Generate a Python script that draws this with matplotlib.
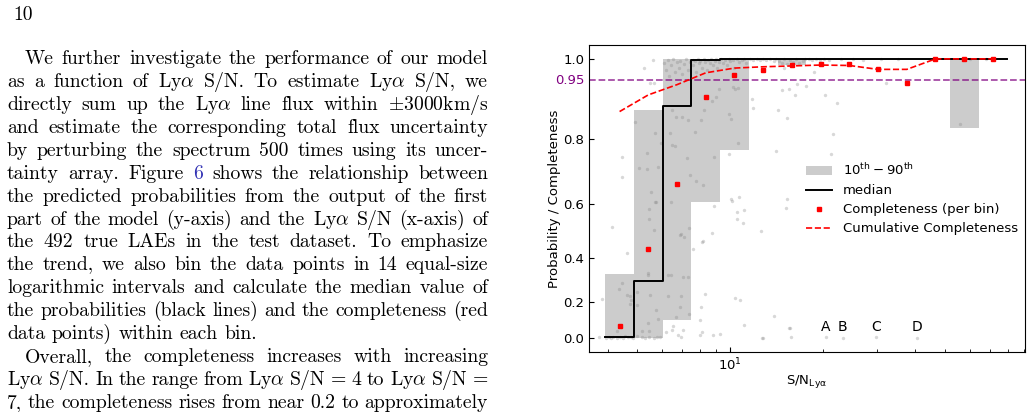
import numpy as np
import matplotlib
matplotlib.use('Agg')
import matplotlib.pyplot as plt
from matplotlib.patches import Patch
from matplotlib.lines import Line2D
from matplotlib.ticker import NullFormatter, FormatStrFormatter

# 14 equal-size logarithmic S/N bins
snr_edges = [3.93, 4.87, 6.04, 7.49, 9.28, 11.50, 14.26, 17.68, 21.91, 27.16,
             33.67, 41.74, 51.74, 64.13, 79.50]
p10 = [0.0, 0.0, 0.104, 0.609, 0.768, 0.997, 0.985, 1.0, 1.0, 1.0, 1.0, 1.0, 0.831, 1.0]
p90 = [0.333, 0.878, 1.0, 1.0, 1.0, 1.0, 1.0, 1.0, 1.0, 1.0, 1.0, 1.0, 1.0, 1.0]
p50 = [0.006, 0.301, 0.886, 0.997, 1.0, 1.0, 1.0, 1.0, 1.0, 1.0, 1.0, 1.0, 1.0, 1.0]
comp_bin = [0.074, 0.437, 0.666, 0.910, 0.964, 0.974, 0.985, 0.989, 0.988, 0.976,
            0.945, 1.0, 1.0, 1.0]
comp_cum = [0.873, 0.915, 0.940, 0.968, 0.979, 0.982, 0.984, 0.986, 0.985, 0.976,
            0.976, 1.0, 1.0, 1.0]

# individual LAEs
snr_low = [3.74, 3.95, 4.03, 4.10, 4.18, 4.28, 4.38, 4.49, 4.57, 4.66, 4.77, 4.85, 5.00,
           5.17, 5.30, 5.45, 5.64, 5.78, 5.93, 6.18, 6.49, 6.54, 6.79, 6.95, 7.05, 8.00,
           8.13, 8.77, 9.28, 12.7, 12.8, 15.6, 15.8]
prob_low = [0.004, 0.002, 0.006, 0.003, 0.008, 0.003, 0.005, 0.002, 0.010, 0.004, 0.006,
            0.003, 0.012, 0.004, 0.002, 0.006, 0.003, 0.005, 0.008, 0.038, 0.050, 0.070,
            0.016, 0.004, 0.050, 0.020, 0.038, 0.016, 0.025, 0.003, 0.000, 0.062, 0.006]

snr_mid = [3.84, 4.13, 4.28, 4.37, 4.43, 4.45, 4.47, 4.47, 4.64, 4.64, 4.73, 4.76, 4.73,
           4.92, 4.98, 5.00, 5.04, 5.17, 5.27, 5.37, 5.37, 5.40, 5.42, 5.43, 5.44, 5.44,
           5.45, 5.48, 5.50, 5.53, 5.60, 5.64, 5.65, 5.71, 5.71, 5.73, 5.75, 5.85, 5.85,
           5.97,
           6.49, 6.69, 6.99, 7.32, 6.38, 6.49, 6.60, 7.23, 6.43, 6.88, 7.10, 6.95, 7.38,
           6.28, 6.43, 7.05, 7.32, 6.30, 6.95, 6.88, 7.38, 6.69, 7.40,
           8.88, 8.73, 8.19, 8.10, 7.56, 8.29, 8.03, 7.99, 7.69, 7.72, 8.19, 8.05, 8.88,
           8.25, 8.73, 9.20, 9.00,
           9.93, 10.05, 10.6, 10.2, 10.4, 10.6, 9.95, 10.1, 10.12, 10.7, 11.1, 10.5, 10.5,
           11.0, 12.6, 11.8, 11.9, 14.35, 15.3, 14.7, 16.2, 15.5, 16.45, 17.6, 18.75,
           20.4, 22.3, 21.6, 21.3, 14.1, 15.3, 15.15, 10.35, 10.8, 11.1, 13.9, 15.55,
           32.2, 14.95, 56.0]
prob_mid = [0.215, 0.52, 0.04, 0.263, 0.065, 0.75, 0.69, 0.29, 0.42, 0.235, 0.23, 0.209,
            0.19, 0.845, 0.25, 0.185, 0.715, 0.045, 0.98, 0.76, 0.712, 0.09, 0.335, 0.33,
            0.585, 0.548, 0.045, 0.235, 0.944, 0.64, 0.998, 0.51, 0.944, 0.815, 0.607,
            0.607, 0.158, 0.72, 0.11, 0.79,
            0.878, 0.86, 0.858, 0.852, 0.816, 0.783, 0.78, 0.747, 0.609, 0.49, 0.485,
            0.495, 0.518, 0.33, 0.328, 0.32, 0.32, 0.23, 0.228, 0.177, 0.14, 0.12, 0.695,
            0.595, 0.50, 0.47, 0.465, 0.437, 0.238, 0.175, 0.104, 0.82, 0.677, 0.664,
            0.852, 0.75, 0.878, 0.90, 0.93, 0.91,
            0.868, 0.855, 0.79, 0.935, 0.93, 0.933, 0.757, 0.617, 0.613, 0.625, 0.58,
            0.573, 0.55, 0.537, 0.506, 0.905, 0.883, 0.877, 0.857, 0.928, 0.915, 0.93,
            0.941, 0.937, 0.97, 0.914, 0.894, 0.814, 0.757, 0.766, 0.617, 0.589, 0.218,
            0.212, 0.075, 0.125, 0.06, 0.944, 0.98, 0.84]

snr_top = [6.1, 6.2, 6.3, 6.35, 6.45, 6.5, 6.6, 6.7, 6.8, 6.9, 7.0, 7.1, 7.2, 7.3, 7.4,
           7.55, 7.6, 7.7, 7.75, 7.85, 7.9, 8.0, 8.1, 8.2, 8.3, 8.4, 8.5, 8.6, 8.7, 8.8,
           8.9, 9.0, 9.1, 9.2,
           9.35, 9.5, 9.6, 9.75, 9.9, 10.0, 10.2, 10.3, 10.5, 10.7, 10.9, 11.1, 11.3,
           11.6, 11.9, 12.2, 12.5, 12.8, 13.1, 13.5, 13.9, 14.1,
           14.4, 14.7, 15.0, 15.3, 15.6, 16.0, 16.4, 16.8, 17.2, 17.5,
           18.0, 18.5, 19.0, 19.6, 20.2, 21.0, 23.0, 25.0, 27.0, 31.0, 35.0, 46.0, 60.0,
           68.0]
prob_top = [0.99, 0.975, 0.997, 0.96, 0.985, 0.999, 0.97, 0.992, 0.98, 0.996, 0.965,
            0.988, 0.999, 0.975, 0.993,
            0.998, 0.985, 0.995, 0.97, 0.999, 0.99, 0.996, 0.98, 0.999, 0.993, 0.975,
            0.998, 0.99, 0.999, 0.985, 0.996, 0.999, 0.98, 0.994,
            0.999, 0.99, 0.997, 0.985, 0.999, 0.995, 0.998, 0.98, 0.999, 0.993, 0.997,
            0.999, 0.99,
            0.999, 0.998, 0.999, 0.997, 0.999, 0.998, 0.999, 0.996, 0.999,
            0.995, 0.99, 0.999, 0.988, 0.997, 0.993, 0.999, 0.99, 0.996, 0.999,
            0.999, 0.998, 0.999, 0.997, 0.999, 0.998, 0.999, 0.999, 0.998, 0.999, 0.999,
            0.999, 0.999, 0.999]

# labelled sources
lab_names = ['A', 'B', 'C', 'D']
lab_snr = [20.45, 23.2, 29.8, 40.4]
lab_prob = [0.006, 0.0, 0.008, 0.003]

page_lines = [
    "We further investigate the performance of our model",
    "as a function of Ly$\\alpha$ S/N. To estimate Ly$\\alpha$ S/N, we",
    "directly sum up the Ly$\\alpha$ line flux within $\\pm$3000km/s",
    "and estimate the corresponding total flux uncertainty",
    "by perturbing the spectrum 500 times using its uncer-",
    "tainty array.  Figure @6 shows the relationship between",
    "the predicted probabilities from the output of the first",
    "part of the model (y-axis) and the Ly$\\alpha$ S/N (x-axis) of",
    "the 492 true LAEs in the test dataset.  To emphasize",
    "the trend, we also bin the data points in 14 equal-size",
    "logarithmic intervals and calculate the median value of",
    "the probabilities (black lines) and the completeness (red",
    "data points) within each bin.",
    "Overall, the completeness increases with increasing",
    "Ly$\\alpha$ S/N. In the range from Ly$\\alpha$ S/N = 4 to Ly$\\alpha$ S/N =",
    "7, the completeness rises from near 0.2 to approximately",
]
indented = [0, 13]
ragged = [12]

W, H = 1032, 412
fig = plt.figure(figsize=(W / 100, H / 100), dpi=100)
renderer = fig.canvas.get_renderer()

text_size = 14.2
serif = ['cmr10', 'DejaVu Serif']
link_color = '#3232b4'


def put_line(words, x0, x1, y, full=True):
    objs = []
    for w in words:
        col = link_color if w.startswith('@') else 'black'
        t = fig.text(x0 / W, 1 - y / H, w.lstrip('@'), fontsize=text_size, family=serif,
                     math_fontfamily='cm', color=col, va='baseline', ha='left')
        objs.append(t)
    widths = [t.get_window_extent(renderer).width for t in objs]
    if full and len(objs) > 1:
        gap = (x1 - x0 - sum(widths)) / (len(objs) - 1)
    else:
        gap = 0.333 * text_size * 100 / 72
    x = x0
    for t, wd in zip(objs, widths):
        t.set_x(x / W)
        x += wd + gap


fig.text(13 / W, 1 - 20 / H, '10', fontsize=text_size, family=serif, va='baseline')
for i, line in enumerate(page_lines):
    x0 = 25 if i in indented else 7
    put_line(line.split(), x0, 488, 64 + 22.93 * i, full=i not in ragged)

# chart
ax = fig.add_axes([589 / W, 1 - 352 / H, (1025 - 589) / W, (352 - 45) / H])
ax.set_xscale('log')
ax.set_yscale('function', functions=(np.exp, np.log))

edges = np.array(snr_edges)
centers = np.sqrt(edges[:-1] * edges[1:])

ax.fill_between(edges, p10 + [p10[-1]], p90 + [p90[-1]], step='post',
                color='0.8', lw=0, zorder=1)
ax.scatter(snr_low + snr_mid + snr_top + lab_snr, prob_low + prob_mid + prob_top + lab_prob,
           s=6, c='gray', alpha=0.3, lw=0, zorder=2)
ax.step(edges, p50 + [p50[-1]], where='post', color='black', lw=1.4, zorder=3)
ax.plot(centers, comp_cum, color='red', ls='--', lw=1.2, zorder=4)
ax.plot(centers, comp_bin, 's', color='red', ms=3.2, lw=0, zorder=5)
ax.axhline(0.95, color='purple', ls='--', lw=1.3, alpha=0.7, zorder=2)
ax.annotate('0.95', xy=(0, 0.95), xycoords=('axes fraction', 'data'), xytext=(-3.5, 0),
            textcoords='offset points', ha='right', va='center', color='purple',
            fontsize=9.5)

for name, x in zip(lab_names, lab_snr):
    ax.text(x, 0.042, name, ha='center', va='baseline', fontsize=10)

ax.set_xlim(3.48, 90.8)
ax.set_ylim(-0.09, 1.031)
ax.set_yticks([0.0, 0.2, 0.4, 0.6, 0.8, 1.0])
ax.yaxis.set_major_formatter(FormatStrFormatter('%.1f'))
ax.xaxis.set_minor_formatter(NullFormatter())
ax.tick_params(which='both', direction='in', labelsize=9.5)
ax.tick_params(which='major', length=3.5)
ax.tick_params(which='minor', length=2)
ax.set_xlabel(r'S/N$_{\rm Ly\alpha}$', fontsize=9.5, labelpad=0)
ax.set_ylabel('Probability / Completeness', fontsize=9.5, labelpad=1.5)

handles = [Patch(color='0.8', lw=0),
           Line2D([], [], color='black', lw=1.4),
           Line2D([], [], marker='s', color='red', ms=3.2, lw=0),
           Line2D([], [], color='red', ls='--', lw=1.2)]
labels = [r'10$^{\rm th}-90^{\rm th}$', 'median', 'Completeness (per bin)',
          'Cumulative Completeness']
ax.legend(handles, labels, loc='upper left', bbox_to_anchor=(0.47, 0.656), frameon=False,
          fontsize=9.5, numpoints=1, handlelength=2.0, labelspacing=0.45)

fig.savefig('out.png', dpi=100)
